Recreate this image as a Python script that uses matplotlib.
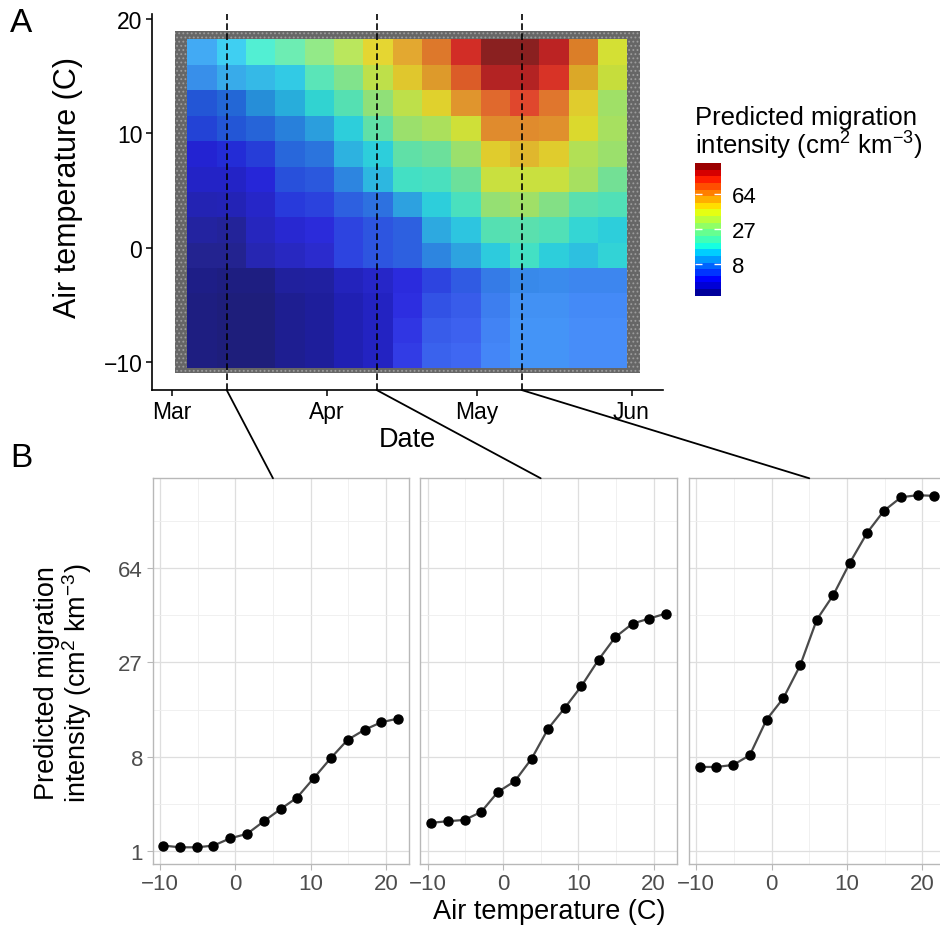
import numpy as np
import matplotlib
matplotlib.use("Agg")
import matplotlib.pyplot as plt
import matplotlib.dates as mdates
from matplotlib.colors import FuncNorm, LinearSegmentedColormap
from matplotlib.cm import ScalarMappable
from matplotlib.patches import Rectangle, ConnectionPatch
from datetime import datetime

plt.rcParams['font.family'] = ['Liberation Sans', 'DejaVu Sans']
plt.rcParams['mathtext.fontset'] = 'custom'
plt.rcParams['mathtext.rm'] = 'Liberation Sans'
plt.rcParams['mathtext.it'] = 'Liberation Sans:italic'
plt.rcParams['mathtext.bf'] = 'Liberation Sans:bold'
plt.rcParams['hatch.linewidth'] = 0.8

W, H = 940, 928

# ---------------- data ----------------
season_start = datetime(2019, 3, 1)
# tile (bin) edges: days after 1 March, air temperature
tile_day_edges = [3.1, 9.0, 14.9, 20.7, 26.6, 32.5, 38.3, 44.2, 50.1, 55.9,
                  61.8, 67.7, 73.5, 79.4, 85.3, 91.1]
tile_temp_edges = [-10.55, -8.35, -6.15, -3.95, -1.75, 0.45, 2.7, 4.9, 7.1,
                   9.35, 11.55, 13.8, 16.0, 18.25]

# predicted migration intensity per tile, coldest row first
tile_intensity = [
    [1.5, 1.4, 1.4, 1.8, 2.0, 2.6, 2.9, 4.3, 5.6, 5.6, 7.1, 7.8, 7.8, 7.3, 7.3],
    [1.5, 1.4, 1.4, 1.8, 2.0, 2.6, 2.9, 4.1, 5.5, 5.5, 7.1, 7.8, 7.8, 7.3, 7.3],
    [1.5, 1.4, 1.4, 1.8, 2.0, 2.6, 2.9, 3.9, 5.3, 5.5, 7.1, 7.8, 7.8, 7.3, 7.3],
    [1.6, 1.5, 1.5, 2.0, 2.1, 2.7, 3.0, 3.7, 4.9, 5.8, 7.4, 8.0, 8.0, 7.6, 7.6],
    [1.7, 1.7, 2.4, 2.7, 3.0, 4.9, 5.6, 6.3, 8.5, 10.6, 13.8, 17.0, 14.2, 13.0, 14.7],
    [2.0, 1.9, 2.7, 3.2, 3.4, 4.9, 5.6, 6.3, 11.1, 13.5, 19.5, 20.1, 18.6, 14.9, 14.2],
    [2.5, 2.6, 3.0, 4.6, 4.9, 6.3, 7.2, 10.5, 14.2, 17.8, 29.8, 32.2, 26.7, 20.1, 18.6],
    [3.0, 3.0, 3.7, 5.6, 5.9, 8.5, 12.3, 17.0, 17.8, 22.9, 40.7, 40.7, 40.7, 33.4, 23.9],
    [3.4, 4.3, 4.9, 6.8, 7.6, 11.7, 14.2, 21.0, 22.9, 31.0, 47.8, 52.7, 47.8, 35.6, 31.0],
    [5.3, 6.3, 6.8, 8.5, 10.5, 14.2, 21.0, 31.0, 34.3, 42.1, 64.5, 64.5, 62.6, 45.1, 33.4],
    [6.3, 7.2, 9.5, 11.7, 14.9, 19.5, 28.9, 38.3, 46.7, 61.2, 74.1, 84.6, 70.4, 47.8, 32.2],
    [8.5, 10.5, 11.7, 13.5, 19.5, 25.7, 38.3, 49.4, 59.3, 76.2, 98.6, 98.6, 89.3, 55.7, 40.7],
    [9.5, 12.6, 17.0, 21.0, 27.8, 35.6, 46.7, 57.5, 68.4, 91.1, 111.3, 111.3, 96.1, 66.4, 43.6],
]

# relative density of the observation cloud behind each tile (0 = none, 1 = dense)
obs_density = [
    [0.9, 0.9, 0.9, 0.9, 0.9, 0.85, 0.8, 0.5, 0.35, 0.25, 0.15, 0.15, 0.15, 0.1, 0.1],
    [0.9, 0.9, 0.9, 0.9, 0.9, 0.85, 0.8, 0.55, 0.4, 0.3, 0.2, 0.15, 0.15, 0.1, 0.1],
    [0.9, 0.9, 0.9, 0.9, 0.9, 0.85, 0.8, 0.6, 0.5, 0.4, 0.3, 0.2, 0.2, 0.15, 0.15],
    [0.9, 0.9, 0.9, 0.85, 0.85, 0.8, 0.75, 0.65, 0.6, 0.55, 0.45, 0.4, 0.35, 0.3, 0.3],
    [0.8, 0.8, 0.75, 0.7, 0.65, 0.6, 0.6, 0.6, 0.6, 0.6, 0.6, 0.6, 0.6, 0.6, 0.6],
    [0.8, 0.8, 0.75, 0.7, 0.65, 0.6, 0.6, 0.6, 0.6, 0.6, 0.6, 0.6, 0.6, 0.6, 0.6],
    [0.8, 0.8, 0.75, 0.7, 0.65, 0.6, 0.6, 0.6, 0.6, 0.6, 0.6, 0.6, 0.6, 0.6, 0.6],
    [0.8, 0.8, 0.75, 0.7, 0.65, 0.6, 0.6, 0.6, 0.6, 0.6, 0.6, 0.6, 0.6, 0.6, 0.6],
    [0.8, 0.8, 0.75, 0.7, 0.65, 0.6, 0.6, 0.6, 0.6, 0.6, 0.6, 0.6, 0.6, 0.6, 0.6],
    [0.8, 0.8, 0.75, 0.7, 0.65, 0.6, 0.6, 0.6, 0.6, 0.6, 0.6, 0.6, 0.6, 0.6, 0.6],
    [0.8, 0.8, 0.75, 0.7, 0.65, 0.6, 0.6, 0.6, 0.6, 0.6, 0.6, 0.6, 0.6, 0.6, 0.6],
    [0.4, 0.4, 0.45, 0.5, 0.5, 0.55, 0.6, 0.6, 0.65, 0.7, 0.8, 0.8, 0.75, 0.7, 0.65],
    [0.2, 0.25, 0.3, 0.35, 0.4, 0.45, 0.5, 0.55, 0.65, 0.75, 0.85, 0.85, 0.8, 0.7, 0.6],
]

# extent of the raw observation cloud
cloud_days = (0.7, 93.7)
cloud_temps = (-10.95, 18.95)

# dates of the three temperature profiles in panel B
profile_dates = [datetime(2019, 3, 12), datetime(2019, 4, 11), datetime(2019, 5, 10)]
profile_temps = [-9.56, -7.33, -5.1, -2.9, -0.67, 1.56, 3.8, 6.0, 8.2, 10.4,
                 12.7, 14.9, 17.2, 19.4, 21.6]
profile_intensity = [
    [1.19, 1.13, 1.13, 1.19, 1.47, 1.66, 2.29, 3.02, 3.86, 5.57, 7.86, 10.35, 11.98, 13.25, 13.91],
    [2.20, 2.29, 2.36, 2.84, 4.32, 5.28, 7.77, 12.15, 15.97, 20.75, 27.82, 34.87, 39.69, 41.57, 43.50],
    [6.78, 6.78, 7.01, 8.21, 13.72, 18.01, 26.20, 41.17, 51.27, 66.78, 83.74, 97.65, 107.17, 108.60, 108.12],
]

intensity_ticks = [1, 8, 27, 64]
temp_ticks = [-10, 0, 10, 20]

# ---------------- helpers ----------------
def cube(v):
    return np.asarray(v) ** 3

def px_axes(fig, l, t, r, b):
    return fig.add_axes([l / W, 1 - b / H, (r - l) / W, (b - t) / H])

def day_num(d):
    return mdates.date2num(season_start) + np.asarray(d, dtype=float)

fig = plt.figure(figsize=(W / 100, H / 100), dpi=100)

# ---------------- panel A ----------------
axA = px_axes(fig, 152, 15, 663, 391)
norm = FuncNorm((np.cbrt, cube), vmin=1.31, vmax=116.6)
cmap = plt.get_cmap('jet')

xe = day_num(tile_day_edges)
ye = np.array(tile_temp_edges)

# observation cloud (dense grey fringe around the tiles)
axA.add_patch(Rectangle((day_num(cloud_days[0]), cloud_temps[0]),
                        cloud_days[1] - cloud_days[0], cloud_temps[1] - cloud_temps[0],
                        facecolor='#666666', edgecolor='#9c9c9c', hatch='....', lw=0, zorder=1))
grey_cmap = LinearSegmentedColormap.from_list('pts', ['white', '#555555'])
axA.pcolormesh(xe, ye, np.array(obs_density), cmap=grey_cmap, vmin=0, vmax=1,
               shading='flat', zorder=2)
axA.pcolormesh(xe, ye, np.array(tile_intensity), cmap=cmap, norm=norm, alpha=0.7,
               shading='flat', edgecolors='none', antialiased=False, zorder=3)

for d in profile_dates:
    axA.axvline(mdates.date2num(d), color='black', lw=1.2, ls=(0, (4, 2)), zorder=4)

axA.set_xlim(day_num(-3.94), day_num(98.3))
axA.set_ylim(-12.45, 20.44)
axA.xaxis.set_major_locator(mdates.MonthLocator())
axA.xaxis.set_major_formatter(mdates.DateFormatter('%b'))
axA.set_yticks([-10, 0, 10, 20])
for s in ['top', 'right']:
    axA.spines[s].set_visible(False)
for s in ['left', 'bottom']:
    axA.spines[s].set_linewidth(1.2)
axA.tick_params(length=4, width=1.1, labelsize=16.5, colors='black', pad=3)

fig.text(68 / W, 1 - 187.5 / H, 'Air temperature (C)', rotation=90,
         ha='center', va='center', fontsize=22)
fig.text(407.5 / W, 1 - 440 / H, 'Date', ha='center', va='center', fontsize=19.5)
fig.text(10 / W, 1 - 8 / H, 'A', ha='left', va='top', fontsize=24)
fig.text(10 / W, 1 - 443 / H, 'B', ha='left', va='top', fontsize=24)

# colour bar
cax = px_axes(fig, 695, 164, 721, 296.7)
cb_edges = cube(np.linspace(np.cbrt(1.31), np.cbrt(116.6), 21))
cb = fig.colorbar(ScalarMappable(norm=norm, cmap=cmap), cax=cax,
                  boundaries=cb_edges, ticks=[8, 27, 64])
cb.outline.set_visible(False)
cax.set_yticklabels(['8', '27', '64'])
cax.tick_params(direction='in', color='white', length=5, width=1,
                left=True, right=True, labelsize=16, pad=8)
fig.text(695 / W, 1 - 125 / H, 'Predicted migration', ha='left', va='baseline', fontsize=18.5)
fig.text(695 / W, 1 - 154.5 / H, r'intensity (cm$^{2}$ km$^{-3}$)', ha='left',
         va='baseline', fontsize=18.5)

# ---------------- panel B ----------------
b_boxes = [(152.7, 409.3), (420.4, 677.0), (689.0, 945.6)]
axesB = []
for i, (l, r) in enumerate(b_boxes):
    ax = px_axes(fig, l, 479.3, r, 864.5)
    ax.set_yscale('function', functions=(np.cbrt, cube))
    ax.plot(profile_temps, profile_intensity[i], color='#4a4a4a', lw=1.6, zorder=3)
    ax.plot(profile_temps, profile_intensity[i], ls='none', marker='o', ms=6.5,
            mfc='black', mec='black', zorder=4)
    ax.set_xlim(-10.97, 23.1)
    ax.set_ylim(0.87 ** 3, 4.95 ** 3)
    ax.set_xticks(temp_ticks)
    ax.set_xticks([-5, 5, 15], minor=True)
    ax.set_yticks(intensity_ticks)
    ax.set_yticks([1.5 ** 3, 2.5 ** 3, 3.5 ** 3, 4.5 ** 3], minor=True)
    ax.set_xticklabels(['\u221210', '0', '10', '20'])
    ax.set_yticklabels(['1', '8', '27', '64'])
    ax.grid(which='major', color='#dedede', lw=0.9, zorder=0)
    ax.grid(which='minor', color='#eeeeee', lw=0.6, zorder=0)
    ax.set_axisbelow(True)
    for s in ax.spines.values():
        s.set_color('#b8b8b8')
        s.set_linewidth(1.0)
    ax.tick_params(which='major', length=4, width=0.8, color='#b8b8b8',
                   labelcolor='#4d4d4d', labelsize=16, pad=3)
    ax.tick_params(which='minor', length=0)
    if i > 0:
        ax.tick_params(axis='y', which='both', left=False, labelleft=False)
    axesB.append(ax)

    con = ConnectionPatch(xyA=(mdates.date2num(profile_dates[i]), -12.45), coordsA=axA.transData,
                          xyB=(5, 4.95 ** 3), coordsB=ax.transData,
                          color='black', lw=1.3)
    fig.add_artist(con)

fig.text(46.7 / W, 1 - 683 / H, 'Predicted migration', rotation=90,
         ha='center', va='center', fontsize=19.5)
fig.text(77.5 / W, 1 - 683 / H, r'intensity (cm$^{2}$ km$^{-3}$)', rotation=90,
         ha='center', va='center', fontsize=19.5)
fig.text(549 / W, 1 - 912 / H, 'Air temperature (C)', ha='center', va='center', fontsize=19.5)

fig.savefig('out.png', dpi=100)
